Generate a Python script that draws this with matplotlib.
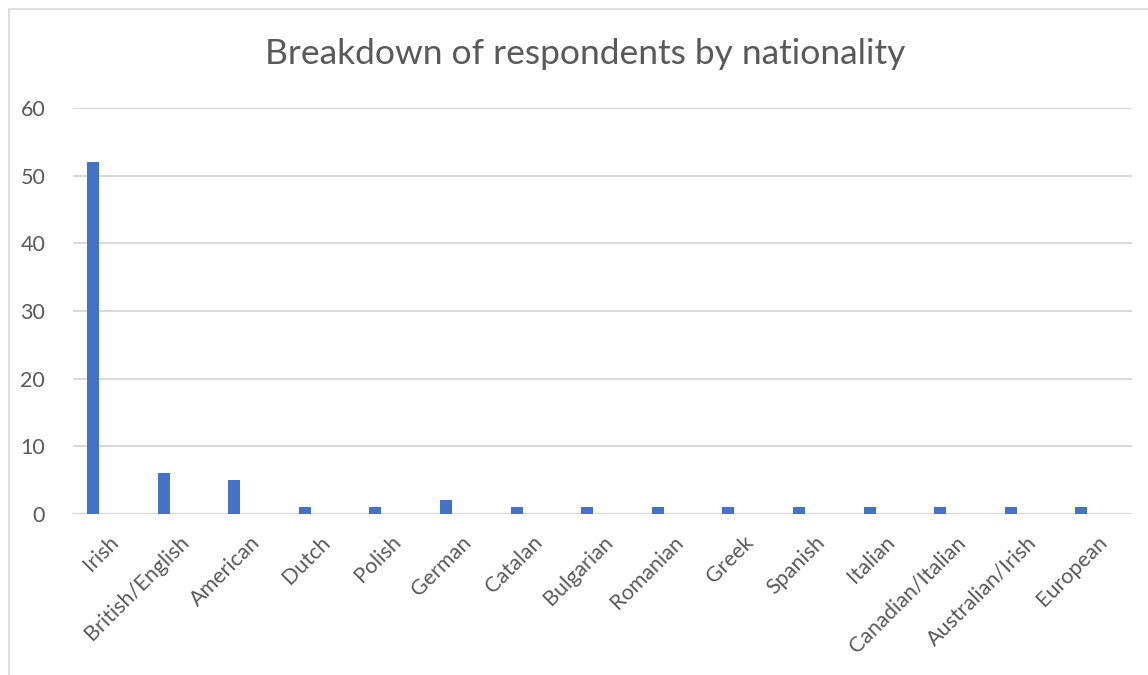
import numpy as np
import matplotlib.pyplot as plt
from matplotlib.patches import Rectangle

nationalities = ["Irish", "British/English", "American", "Dutch", "Polish", "German",
                 "Catalan", "Bulgarian", "Romanian", "Greek", "Spanish", "Italian",
                 "Canadian/Italian", "Australian/Irish", "European"]
respondents = [52, 6, 5, 1, 1, 2, 1, 1, 1, 1, 1, 1, 1, 1, 1]
y_ticks = [0, 10, 20, 30, 40, 50, 60]

plt.rcParams['font.family'] = ['Lato', 'DejaVu Sans']
text_col = '#595959'
grid_col = '#D9D9D9'

fig = plt.figure(figsize=(11.48, 6.75), dpi=100)
ax = fig.add_axes([73 / 1148, 1 - 514 / 675, (1132 - 73) / 1148, (514 - 108) / 675])

x = np.arange(len(nationalities))
# bars sit left of the category centre, like an Excel clustered series
ax.bar(x - 0.217, respondents, width=0.17, color='#4472C4', zorder=3)

ax.set_xlim(-0.5, len(nationalities) - 0.5)
ax.set_ylim(0, 60)
ax.set_yticks(y_ticks)
ax.set_xticks(x)
ax.set_xticklabels(nationalities, rotation=45, ha='right', va='top', rotation_mode='anchor')
ax.tick_params(axis='both', length=0, labelsize=15.5, colors=text_col)
ax.tick_params(axis='y', pad=20)
ax.tick_params(axis='x', pad=13)

for s in ax.spines.values():
    s.set_visible(False)
ax.grid(axis='y', color=grid_col, linewidth=1.5, zorder=0)
ax.axhline(0, color=grid_col, linewidth=1.5, zorder=2)

fig.text(585 / 1148, 1 - 54 / 675, "Breakdown of respondents by nationality",
         ha='center', va='center', fontsize=25.5, color=text_col)

# chart area border
fig.patches.append(Rectangle((9 / 1148, -0.1), 1.2, 1 - 9 / 675 + 0.1, transform=fig.transFigure,
                             fill=False, edgecolor=grid_col, linewidth=1.2))

fig.savefig("out.png", dpi=100)
